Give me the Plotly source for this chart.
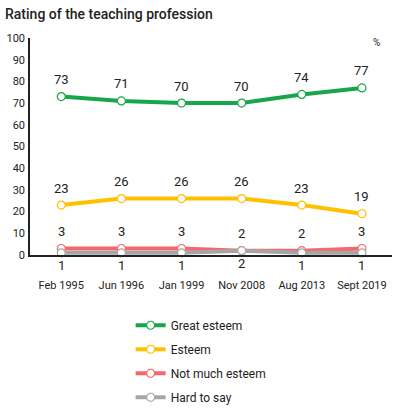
import plotly.graph_objects as go

categories = ["Feb 1995", "Jun 1996", "Jan 1999", "Nov 2008", "Aug 2013", "Sept 2019"]
great_esteem = [73, 71, 70, 70, 74, 77]
esteem = [23, 26, 26, 26, 23, 19]
not_much = [3, 3, 3, 2, 2, 3]
hard_to_say = [1, 1, 1, 2, 1, 1]
y_ticks = [0, 10, 20, 30, 40, 50, 60, 70, 80, 90, 100]

series = [
    ("Great esteem", great_esteem, "#17a64a", 17),
    ("Esteem", esteem, "#ffc000", 17),
    ("Not much esteem", not_much, "#f4676b", 17),
    ("Hard to say", hard_to_say, "#a6a6a6", -13),
]

FONT = "Roboto"
fig = go.Figure()
for name, vals, color, shift in series:
    fig.add_trace(go.Scatter(
        x=categories, y=vals, name=name, mode="lines+markers", legendgroup=name,
        line=dict(color=color, width=4),
        marker=dict(size=8, color="white", line=dict(color=color, width=1.2)),
        cliponaxis=False,
    ))
    for c, v in zip(categories, vals):
        fig.add_annotation(x=c, y=v, text=str(v), showarrow=False, yshift=shift,
                           font=dict(family=FONT, size=13, color="#222"))

fig.add_annotation(xref="paper", yref="paper", x=0.958, y=0.98, text="%", showarrow=False,
                   font=dict(family=FONT, size=10, color="#222"), xanchor="center", yanchor="middle")

fig.update_layout(
    width=397, height=416,
    margin=dict(l=30, r=5, t=38, b=161, autoexpand=False),
    paper_bgcolor="white", plot_bgcolor="white",
    title=dict(text="Rating of the teaching profession", x=5 / 397, xref="container", xanchor="left",
               y=1 - 14 / 416, yref="container", yanchor="middle", pad=dict(t=0, l=0),
               font=dict(family=FONT, size=14, color="#222", weight=500)),
    showlegend=True,
    legend=dict(x=0.278, y=-0.257, xanchor="left", yanchor="top", traceorder="grouped",
                font=dict(family=FONT, size=12, color="#222"), itemwidth=30, tracegroupgap=5,
                bgcolor="rgba(0,0,0,0)"),
    font=dict(family=FONT, color="#222"),
)
fig.update_xaxes(type="category", range=[-0.52, 5.5], showline=True, linecolor="#222", linewidth=1.5,
                 showgrid=False, zeroline=False, ticks="", ticklabelstandoff=19, automargin=False,
                 tickfont=dict(family=FONT, size=11, color="#222"))
fig.update_yaxes(range=[0, 100], tickvals=y_ticks, showline=True, linecolor="#222", linewidth=1.5,
                 showgrid=False, zeroline=False, ticks="", ticklabelstandoff=1, automargin=False,
                 tickfont=dict(family=FONT, size=11, color="#222"))
fig.write_html("out.html", config={"displayModeBar": False},
               post_script="document.body.style.margin='0';document.documentElement.style.overflow='hidden';")
